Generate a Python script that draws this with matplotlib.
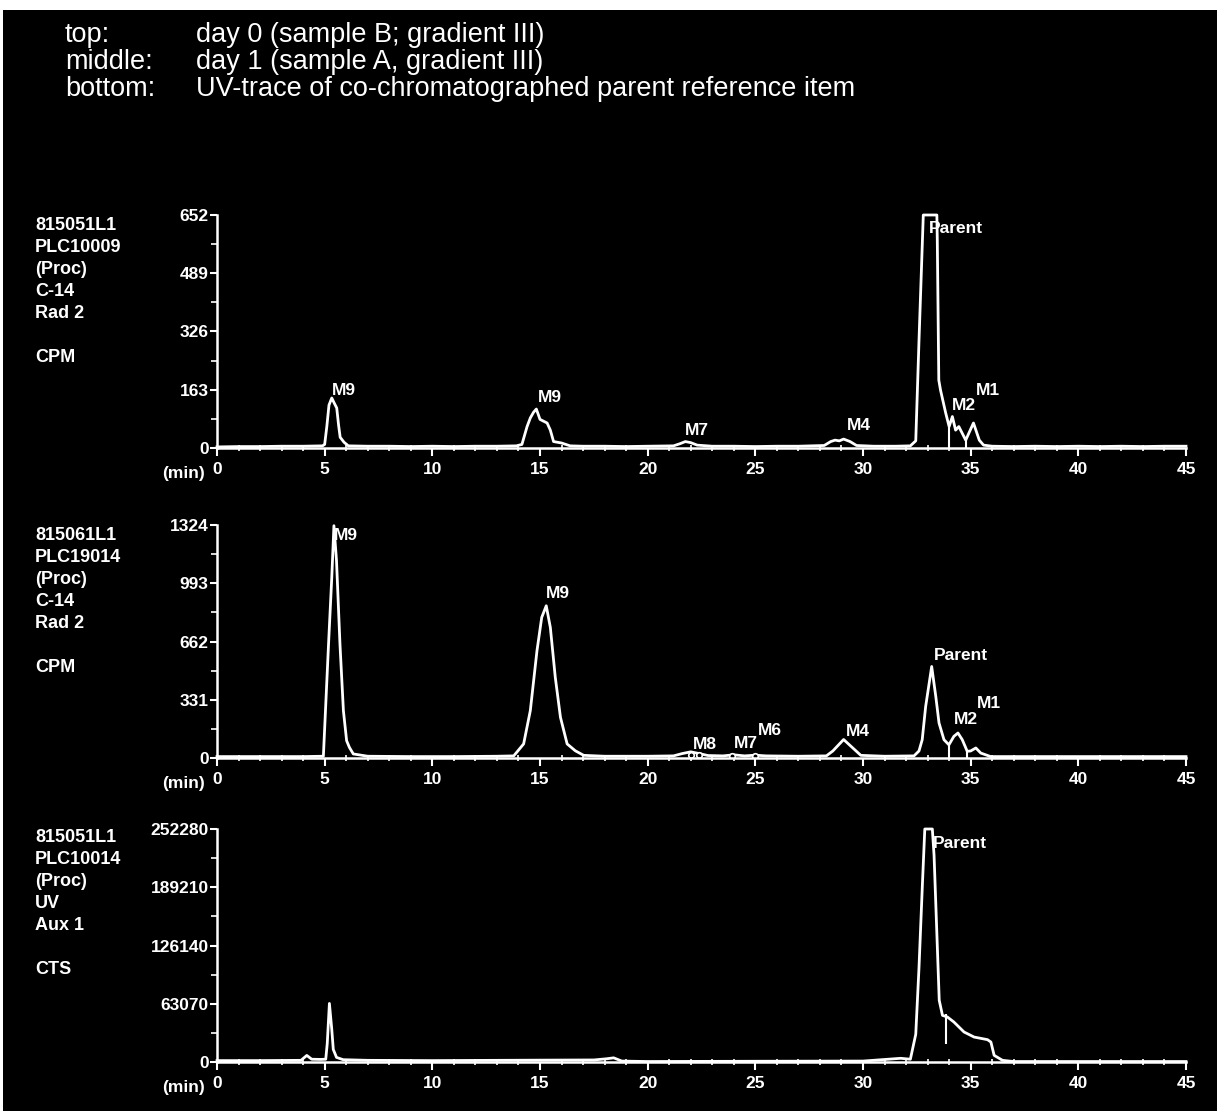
"""Radio-HPLC chromatograms (day 0, day 1) and UV trace of the parent reference."""

import matplotlib

matplotlib.use("Agg")
import matplotlib.pyplot as plt
from matplotlib.patches import Rectangle
from matplotlib.ticker import FixedLocator, MultipleLocator

plt.rcParams["font.family"] = ["Liberation Sans", "DejaVu Sans"]

# ---- header -------------------------------------------------------------
header_keys = ["top:", "middle:", "bottom:"]
header_texts = [
    "day 0 (sample B; gradient III)",
    "day 1 (sample A, gradient III)",
    "UV-trace of co-chromatographed parent reference item",
]

# ---- top panel: day 0 (CPM) ---------------------------------------------
top_info = ["815051L1", "PLC10009", "(Proc)", "C-14", "Rad 2", "", "CPM"]
top_ticks = [0, 163, 326, 489, 652]
top_t = [0, 1, 2, 3, 4, 4.9, 5.0, 5.1, 5.2, 5.33, 5.45, 5.56, 5.65, 5.72,
         5.9, 6.1, 7, 8, 9, 10, 11, 12, 13, 13.9, 14.16, 14.4, 14.55, 14.7,
         14.83, 15.0, 15.33, 15.48, 15.63, 16.0, 16.4, 17, 18, 19, 20, 21.2,
         21.5, 21.75, 22.0, 22.3, 23, 24, 25, 26, 27, 28.2, 28.5, 28.7, 28.9,
         29.1, 29.4, 29.7, 30.5, 31.5, 32.2, 32.45, 32.6, 32.8, 33.43, 33.45,
         33.52, 33.6, 33.84, 34.0, 34.15, 34.3, 34.45, 34.77, 35.13, 35.4,
         35.6, 36, 37, 38, 39, 40, 41, 42, 43, 44, 45]
top_cpm = [3, 4, 4, 5, 5, 6, 10, 60, 120, 140, 125, 112, 62, 30,
           16, 6, 5, 5, 4, 5, 4, 5, 5, 6, 10, 60, 84, 100,
           109, 80, 70, 50, 18, 14, 6, 5, 5, 4, 5, 6,
           12, 18, 15, 8, 5, 5, 4, 5, 5, 7, 18, 22, 20,
           25, 18, 7, 5, 5, 6, 20, 300, 652, 652, 582,
           190, 162, 98, 60, 88, 50, 60, 22, 70, 22,
           8, 5, 4, 5, 4, 5, 4, 5, 4, 5, 5]
top_drop_t = [34.0, 34.77]
top_drop_h = [60, 22]
top_peaks = ["M9", "M9", "M7", "M4", "Parent", "M2", "M1"]
top_peak_t = [5.35, 14.9, 21.75, 29.25, 33.05, 34.15, 35.25]
top_peak_y = [162, 140, 50, 64, 613, 120, 162]

# ---- middle panel: day 1 (CPM) ------------------------------------------
mid_info = ["815061L1", "PLC19014", "(Proc)", "C-14", "Rad 2", "", "CPM"]
mid_ticks = [0, 331, 662, 993, 1324]
mid_t = [0, 2, 4, 4.94, 5.18, 5.33, 5.43, 5.55, 5.71, 5.87, 6.02, 6.15,
         6.33, 7, 9, 11, 13, 13.78, 14.24, 14.55, 14.86, 15.08, 15.29, 15.48,
         15.71, 15.95, 16.26, 16.64, 17.03, 18, 20, 21.2, 21.6, 22.0, 22.4,
         22.8, 23.5, 24.0, 24.5, 25.0, 25.5, 27, 28.3, 28.6, 29.1, 29.5, 29.9,
         31, 32.37, 32.6, 32.75, 32.91, 33.19, 33.38, 33.53, 33.76, 33.99,
         34.22, 34.41, 34.61, 34.84, 35.0, 35.24, 35.47, 35.93, 37, 40, 45]
mid_cpm = [8, 8, 8, 10, 648, 1026, 1320, 1121, 648, 269, 98, 60,
           23, 10, 8, 8, 10, 12, 80, 269, 610, 799, 865, 742,
           458, 231, 80, 41, 15, 10, 10, 12, 25, 35, 25,
           14, 12, 18, 12, 16, 12, 10, 12, 40, 105, 60, 15,
           10, 12, 40, 104, 293, 520, 350, 199, 104, 75,
           123, 142, 104, 38, 40, 57, 28, 8, 8, 8, 8]
mid_drop_t = [34.0, 34.84]
mid_drop_h = [75, 38]
mid_mark_t = [22.0, 22.4, 23.9, 25.0]
mid_mark_y = [18, 16, 12, 12]
mid_peaks = ["M9", "M9", "M8", "M7", "M6", "M4", "Parent", "M2", "M1"]
mid_peak_t = [5.45, 15.25, 22.1, 24.0, 25.1, 29.2, 33.3, 34.2, 35.3]
mid_peak_y = [1267, 937, 74, 80, 159, 153, 585, 216, 312]

# ---- bottom panel: UV trace (CTS) ---------------------------------------
bot_info = ["815051L1", "PLC10014", "(Proc)", "UV", "Aux 1", "", "CTS"]
bot_ticks = [0, 63070, 126140, 189210, 252280]
bot_t = [0, 2, 3.9, 4.17, 4.4, 4.8, 5.05, 5.12, 5.22, 5.33, 5.4, 5.55,
         5.86, 7, 10, 13, 15, 17.5, 18.1, 18.42, 18.8, 20, 25, 30, 31.75,
         32.2, 32.45, 32.6, 32.76, 32.87, 33.22, 33.3, 33.43, 33.54, 33.69,
         33.92, 34.22, 34.69, 35.16, 35.78, 35.94, 36.09, 36.48, 37, 40, 45]
bot_cts = [1500, 1500, 1800, 7100, 3000, 2800, 3000, 20000, 63400, 35300,
           13600, 5000, 2500, 1800, 1500, 1800, 2000, 2200, 3500, 4500, 1000,
           500, 800, 1000, 4000, 3000, 30000, 102000, 193000, 252280, 252280,
           223800, 139000, 66800, 50500, 48700, 43300, 32500, 27000, 24200,
           21600, 7200, 1800, 500, 500, 500]
bot_seg_t = [33.85]
bot_seg_lo = [20000]
bot_seg_hi = [52000]
bot_peaks = ["Parent"]
bot_peak_t = [33.25]
bot_peak_y = [237000]

FG = "white"
W, H = 1217, 1111


def style_axis(ax, ticks):
    ax.set_facecolor("black")
    for side in ("top", "right"):
        ax.spines[side].set_visible(False)
    for side in ("left", "bottom"):
        ax.spines[side].set_color(FG)
        ax.spines[side].set_linewidth(1.8)
    ax.set_xlim(0, 45)
    ax.set_ylim(0, ticks[-1])
    ax.xaxis.set_major_locator(MultipleLocator(5))
    ax.xaxis.set_minor_locator(MultipleLocator(1))
    ax.yaxis.set_major_locator(FixedLocator(ticks))
    mids = [(a + b) / 2 for a, b in zip(ticks[:-1], ticks[1:])]
    ax.yaxis.set_minor_locator(FixedLocator(mids))
    ax.set_yticklabels([str(v) for v in ticks])
    ax.tick_params(axis="x", which="major", direction="out", length=6,
                   width=1.5, color=FG, labelcolor=FG, labelsize=12.5, pad=4)
    ax.tick_params(axis="x", which="minor", direction="inout", length=4,
                   width=1.2, color=FG)
    ax.tick_params(axis="y", which="major", direction="out", length=5,
                   width=1.5, color=FG, labelcolor=FG, labelsize=12.5, pad=1)
    ax.tick_params(axis="y", which="minor", direction="out", length=4,
                   width=1.2, color=FG)
    for lab in ax.get_xticklabels() + ax.get_yticklabels():
        lab.set_fontweight("bold")
    ax.annotate("(min)", xy=(0, 0), xycoords="axes fraction", xytext=(-9, -13),
                textcoords="offset points", ha="right", va="top", color=FG,
                fontsize=12.5, fontweight="bold")


def draw_panel(ax, t, y, ticks, names, pt, py):
    style_axis(ax, ticks)
    ax.plot(t, y, color=FG, lw=2.0, clip_on=False, solid_joinstyle="round")
    for name, x0, y0 in zip(names, pt, py):
        ax.text(x0, y0, name, color=FG, fontsize=12.5, fontweight="bold",
                ha="left", va="center")


def side_label(fig, lines, y_px):
    for i, s in enumerate(lines):
        fig.text(35 / W, 1 - (y_px + 22 * i) / H, s, color=FG, fontsize=13,
                 fontweight="bold", ha="left", va="center")


fig = plt.figure(figsize=(W / 100, H / 100), dpi=100, facecolor="white")
fig.patches.append(Rectangle((3 / W, 0), 1, 1 - 10 / H, transform=fig.transFigure,
                             facecolor="black", edgecolor="none", zorder=-10))

left, width = 217 / W, (1186 - 217) / W
ax_top = fig.add_axes([left, 1 - 448 / H, width, 233 / H])
ax_mid = fig.add_axes([left, 1 - 758 / H, width, 233 / H])
ax_bot = fig.add_axes([left, 1 - 1062 / H, width, 233 / H])

draw_panel(ax_top, top_t, top_cpm, top_ticks, top_peaks, top_peak_t, top_peak_y)
ax_top.vlines(top_drop_t, 0, top_drop_h, color=FG, lw=1.5)

draw_panel(ax_mid, mid_t, mid_cpm, mid_ticks, mid_peaks, mid_peak_t, mid_peak_y)
ax_mid.vlines(mid_drop_t, 0, mid_drop_h, color=FG, lw=1.5)
ax_mid.plot(mid_mark_t, mid_mark_y, ls="none", marker="o", ms=4, mfc="black",
            mec=FG, mew=1.2)

draw_panel(ax_bot, bot_t, bot_cts, bot_ticks, bot_peaks, bot_peak_t, bot_peak_y)
ax_bot.vlines(bot_seg_t, bot_seg_lo, bot_seg_hi, color=FG, lw=1.5)

side_label(fig, top_info, 225)
side_label(fig, mid_info, 535)
side_label(fig, bot_info, 838)

for i, (k, s) in enumerate(zip(header_keys, header_texts)):
    y = 1 - (35 + 27 * i) / H
    fig.text(65 / W, y, k, color=FG, fontsize=19.5, ha="left", va="center")
    fig.text(196 / W, y, s, color=FG, fontsize=19.5, ha="left", va="center")

fig.savefig("out.png", dpi=100, facecolor=fig.get_facecolor())
